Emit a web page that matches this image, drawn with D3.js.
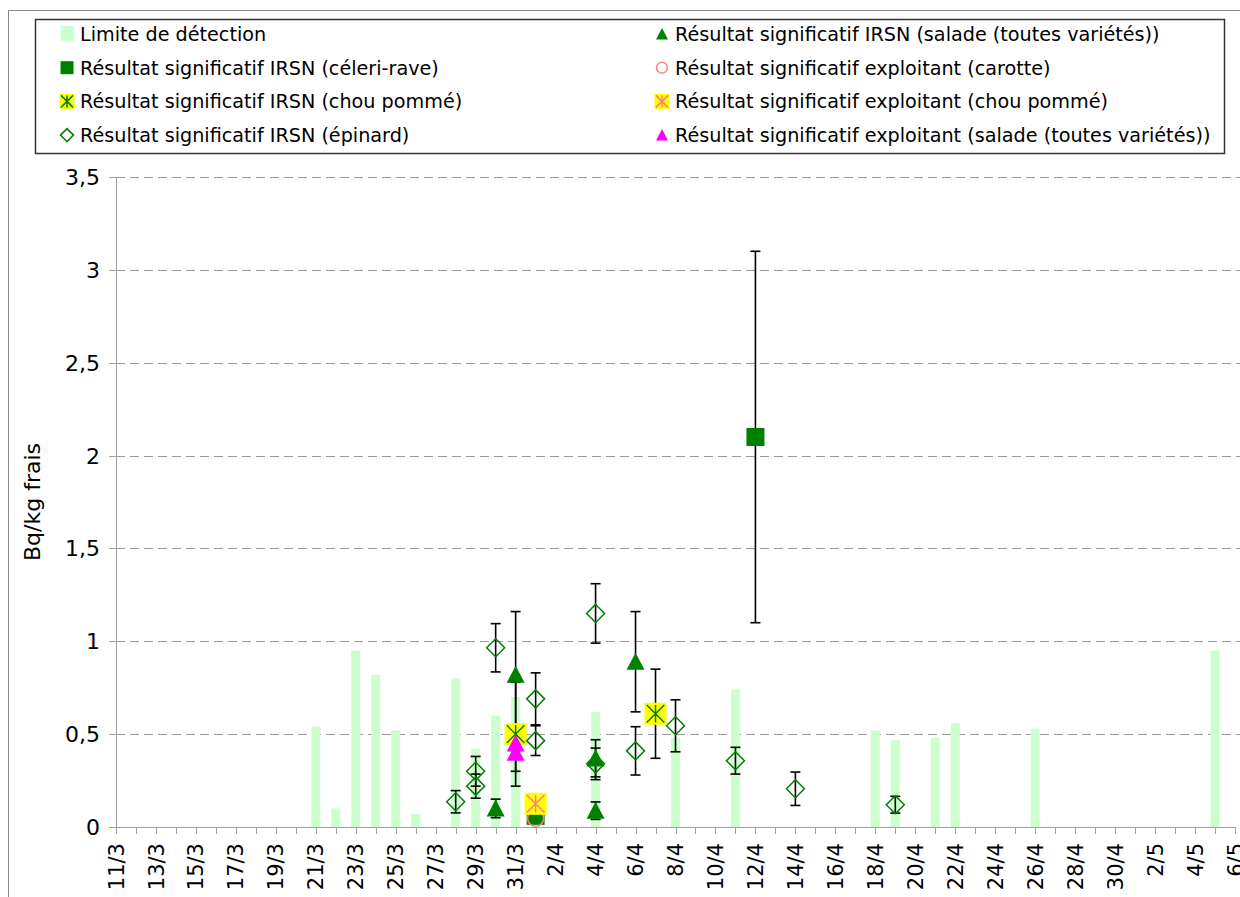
<!DOCTYPE html>
<html lang="fr">
<head>
<meta charset="UTF-8">
<title>Bq/kg frais</title>
<style>
  body { margin: 0; background: #fff; }
  svg { display: block; font-family: "DejaVu Sans", sans-serif; }
</style>
</head>
<body>
<div id="chart"></div>
<script src="https://d3js.org/d3.v7.min.js"></script>
<script>
// ---- data ----
const detectionDates = ["21/3","22/3","23/3","24/3","25/3","26/3","28/3","29/3","30/3","31/3","4/4","8/4","11/4","18/4","19/4","21/4","22/4","26/4","5/5"];
const detectionValues = [0.54,0.10,0.95,0.82,0.52,0.07,0.80,0.42,0.60,0.70,0.62,0.48,0.74,0.52,0.47,0.48,0.56,0.53,0.95];

const celeriDates = ["1/4","12/4"];
const celeriValues = [0.06,2.10];
const celeriErrors = [0,1.0];

const chouIrsnDates = ["31/3","7/4"];
const chouIrsnValues = [0.50,0.61];
const chouIrsnErrors = [0.28,0.24];

const epinardDates = ["28/3","29/3","29/3","30/3","1/4","1/4","4/4","4/4","6/4","8/4","11/4","14/4","19/4"];
const epinardValues = [0.136,0.30,0.22,0.965,0.69,0.465,1.15,0.34,0.41,0.545,0.357,0.206,0.12];
const epinardErrors = [0.06,0.08,0.065,0.13,0.14,0.08,0.16,0.085,0.13,0.14,0.072,0.09,0.045];

const saladeIrsnDates = ["30/3","31/3","4/4","4/4","6/4"];
const saladeIrsnValues = [0.10,0.82,0.37,0.088,0.89];
const saladeIrsnErrors = [0.05,0.34,0.10,0.047,0.27];

const carotteDates = ["1/4"];
const carotteValues = [0.047];

const chouExplDates = ["1/4"];
const chouExplValues = [0.125];

const saladeExplDates = ["31/3","31/3"];
const saladeExplValues = [0.45,0.40];
const saladeExplErrors = [0,0.10];

const xTickLabels = ["11/3","13/3","15/3","17/3","19/3","21/3","23/3","25/3","27/3","29/3","31/3","2/4","4/4","6/4","8/4","10/4","12/4","14/4","16/4","18/4","20/4","22/4","24/4","26/4","28/4","30/4","2/5","4/5","6/5"];
const yTicks = [0,0.5,1,1.5,2,2.5,3,3.5];

const legendLabels = [
  "Limite de détection",
  "Résultat significatif IRSN (céleri-rave)",
  "Résultat significatif IRSN (chou pommé)",
  "Résultat significatif IRSN (épinard)",
  "Résultat significatif IRSN (salade (toutes variétés))",
  "Résultat significatif exploitant (carotte)",
  "Résultat significatif exploitant (chou pommé)",
  "Résultat significatif exploitant (salade (toutes variétés))"
];

// ---- setup ----
const width = 1240, height = 897;
const parseDay = s => { const [d, m] = s.split("/").map(Number); return new Date(2011, m - 1, d); };

const x = d3.scaleTime()
  .domain([new Date(2011, 2, 11), new Date(2011, 4, 6)])
  .range([116, 1235]);
const y = d3.scaleLinear().domain([0, 3.5]).range([827, 177]);

const green = "#008000", pink = "#ff8080", magenta = "#ff00ff", yellow = "#ffff00", barColor = "#ccffcc";

const svg = d3.select("#chart").append("svg")
  .attr("width", width).attr("height", height)
  .attr("viewBox", [0, 0, width, height]);

// outer chart frame
svg.append("rect")
  .attr("x", 8.5).attr("y", 10.5).attr("width", 1300).attr("height", 1000)
  .attr("fill", "none").attr("stroke", "#8c8c8c");

// gridlines
svg.append("g")
  .selectAll("line")
  .data(yTicks.slice(1))
  .join("line")
  .attr("x1", 116).attr("x2", 1240)
  .attr("y1", d => Math.round(y(d)) + 0.5).attr("y2", d => Math.round(y(d)) + 0.5)
  .attr("stroke", "#999").attr("stroke-dasharray", "9,5");

// detection limit bars
svg.append("g")
  .selectAll("rect")
  .data(detectionDates.map((d, i) => ({ date: parseDay(d), value: detectionValues[i] })))
  .join("rect")
  .attr("x", d => x(d.date) - 4.5)
  .attr("width", 9)
  .attr("y", d => y(d.value))
  .attr("height", d => y(0) - y(d.value))
  .attr("fill", barColor);

// axes
const yAxis = svg.append("g");
yAxis.append("line")
  .attr("x1", 116.5).attr("x2", 116.5).attr("y1", y(3.5)).attr("y2", y(0))
  .attr("stroke", "#a0a0a0");
yAxis.selectAll("g")
  .data(yTicks)
  .join("g")
  .attr("transform", d => `translate(0,${Math.round(y(d)) + 0.5})`)
  .call(g => g.append("line").attr("x1", 109).attr("x2", 116).attr("stroke", "#a0a0a0"))
  .call(g => g.append("text")
    .attr("x", 100).attr("dy", "0.36em")
    .attr("text-anchor", "end")
    .attr("font-size", 22)
    .text(d => String(d).replace(".", ",")));

svg.append("text")
  .attr("transform", `translate(40,${y(1.75)}) rotate(-90)`)
  .attr("text-anchor", "middle")
  .attr("font-size", 22)
  .text("Bq/kg frais");

const xAxis = svg.append("g");
xAxis.append("line")
  .attr("x1", x.range()[0]).attr("x2", x.range()[1])
  .attr("y1", 827.5).attr("y2", 827.5)
  .attr("stroke", "#a0a0a0");
xAxis.selectAll("line.tick")
  .data(d3.timeDay.range(x.domain()[0], d3.timeDay.offset(x.domain()[1], 1)))
  .join("line")
  .attr("class", "tick")
  .attr("x1", d => Math.round(x(d)) + 0.5).attr("x2", d => Math.round(x(d)) + 0.5)
  .attr("y1", 827).attr("y2", 834)
  .attr("stroke", "#a0a0a0");
xAxis.selectAll("text")
  .data(xTickLabels)
  .join("text")
  .attr("transform", d => `translate(${x(parseDay(d))},843) rotate(-90)`)
  .attr("text-anchor", "end")
  .attr("dy", "0.36em")
  .attr("font-size", 21)
  .text(d => d);

// ---- marker helpers ----
function drawSymbol(g, type, color, size) {
  const s = size;
  if (type === "bar") {
    g.append("rect").attr("x", -6).attr("y", -8).attr("width", 13).attr("height", 15).attr("fill", barColor);
  } else if (type === "square") {
    g.append("rect").attr("x", -s / 2).attr("y", -s / 2).attr("width", s).attr("height", s).attr("fill", color);
  } else if (type === "star") {
    g.append("rect").attr("x", -s / 2).attr("y", -s / 2).attr("width", s).attr("height", s).attr("fill", yellow);
    const r = s * 0.4;
    g.append("path")
      .attr("d", `M${-r},${-r}L${r},${r}M${-r},${r}L${r},${-r}M0,${-r}L0,${r}`)
      .attr("stroke", color).attr("stroke-width", 1.5);
  } else if (type === "diamond") {
    const r = s / 2;
    g.append("path").attr("d", `M0,${-r}L${r},0L0,${r}L${-r},0Z`)
      .attr("fill", "none").attr("stroke", color).attr("stroke-width", 1.5);
  } else if (type === "triangle") {
    const r = s / 2;
    g.append("path").attr("d", `M0,${-r}L${r},${r * 0.9}L${-r},${r * 0.9}Z`).attr("fill", color);
  } else if (type === "circle") {
    g.append("circle").attr("r", s / 2).attr("fill", "none").attr("stroke", color).attr("stroke-width", 1.5);
  }
}

const series = [
  { dates: celeriDates, values: celeriValues, errors: celeriErrors, type: "square", color: green, size: 18 },
  { dates: chouIrsnDates, values: chouIrsnValues, errors: chouIrsnErrors, type: "star", color: green, size: 22 },
  { dates: epinardDates, values: epinardValues, errors: epinardErrors, type: "diamond", color: green, size: 18 },
  { dates: saladeIrsnDates, values: saladeIrsnValues, errors: saladeIrsnErrors, type: "triangle", color: green, size: 18 },
  { dates: carotteDates, values: carotteValues, errors: null, type: "circle", color: pink, size: 16 },
  { dates: chouExplDates, values: chouExplValues, errors: null, type: "star", color: pink, size: 22 },
  { dates: saladeExplDates, values: saladeExplValues, errors: saladeExplErrors, type: "triangle", color: magenta, size: 18 }
];

const points = series.map(s => s.dates.map((d, i) => ({
  x: x(parseDay(d)), value: s.values[i], err: s.errors ? s.errors[i] : 0, s
})));

// error bars (under the markers)
const errG = svg.append("g").attr("stroke", "#000").attr("stroke-width", 1.6);
points.flat().filter(p => p.err > 0).forEach(p => {
  const top = y(p.value + p.err), bot = y(p.value - p.err);
  errG.append("line").attr("x1", p.x).attr("x2", p.x).attr("y1", top).attr("y2", bot);
  errG.append("line").attr("x1", p.x - 5).attr("x2", p.x + 5).attr("y1", top).attr("y2", top);
  errG.append("line").attr("x1", p.x - 5).attr("x2", p.x + 5).attr("y1", bot).attr("y2", bot);
});

// markers, one series after the other
points.forEach(list => {
  list.forEach(p => {
    const g = svg.append("g").attr("transform", `translate(${p.x},${y(p.value)})`);
    drawSymbol(g, p.s.type, p.s.color, p.s.size);
  });
});

// ---- legend ----
const legend = svg.append("g");
legend.append("rect")
  .attr("x", 35.5).attr("y", 19.5).attr("width", 1189).attr("height", 134)
  .attr("fill", "#fff").attr("stroke", "#333").attr("stroke-width", 1.5);

const legendSymbols = [
  { type: "bar" },
  { type: "square", color: green, size: 13 },
  { type: "star", color: green, size: 15 },
  { type: "diamond", color: green, size: 13 },
  { type: "triangle", color: green, size: 12 },
  { type: "circle", color: pink, size: 11 },
  { type: "star", color: pink, size: 15 },
  { type: "triangle", color: magenta, size: 12 }
];

legendLabels.forEach((label, i) => {
  const col = Math.floor(i / 4), row = i % 4;
  const g = legend.append("g")
    .attr("transform", `translate(${col === 0 ? 67 : 662},${34 + row * 33.7})`);
  const sym = legendSymbols[i];
  drawSymbol(g, sym.type, sym.color, sym.size);
  g.append("text")
    .attr("x", 13).attr("dy", "0.36em")
    .attr("font-size", 19.2)
    .text(label);
});
</script>
</body>
</html>
